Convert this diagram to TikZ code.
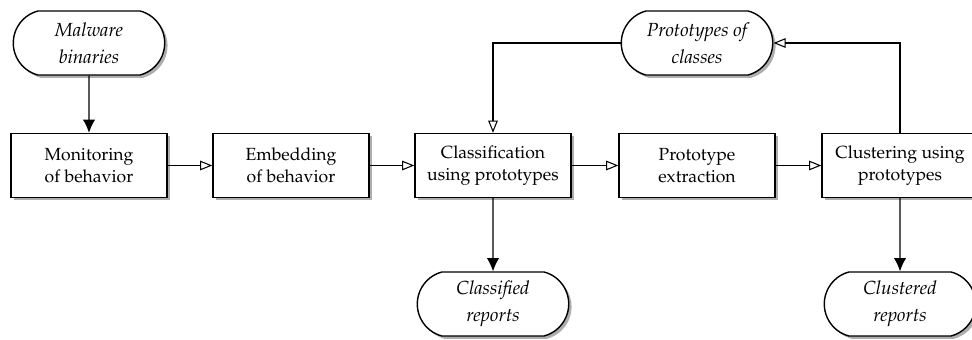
\documentclass[tikz,border=0pt]{standalone}
\usepackage[T1]{fontenc}
\usepackage{mathpazo}
\linespread{1.05}
\usepackage{tikz}
\usetikzlibrary{shapes}
\usetikzlibrary{arrows.meta}
\usetikzlibrary{shadows}
\tikzset{process/.style={rectangle, draw, line width=.8pt, fill=white, align=center,
    minimum width=3.12cm, minimum height=1.28cm, inner sep=1pt,
    drop shadow={shadow xshift=1.6pt, shadow yshift=-1.6pt, fill=black!45, opacity=.7}}}
\tikzset{terminal/.style={process, rounded rectangle, rounded rectangle arc length=150,
    minimum width=3.1cm, font=\fontsize{10.8}{14.4}\selectfont\itshape}}
\tikzset{flow/.style={line width=.6pt, -{Triangle[open, length=7pt, width=5.5pt]}}}
\tikzset{result/.style={line width=.6pt, -{Latex[length=7.5pt, width=7pt]}}}

\begin{document}
\begin{tikzpicture}[x=0.02cm,y=-0.02cm]
  \useasboundingbox (0,0) rectangle (972,340);
  \foreach \x/\y/\name/\lab in {
    89/165.5/{Monitoring\\of behavior}/monitor,
    291/165.5/{Embedding\\of behavior}/embed,
    493/165.5/{Classification\\using prototypes}/classify,
    697/165.5/{Prototype\\extraction}/extract,
    900/165.5/{Clustering using\\prototypes}/cluster%
  } {
    \node[process] (\lab) at (\x, \y) {\name};
  }
  \foreach \x/\y/\name/\lab in {
    89/43/{Malware\\binaries}/binaries,
    697/43/{Prototypes of\\classes}/protos,
    493/304/{Classified\\reports}/classified,
    900/304/{Clustered\\reports}/clustered%
  } {
    \node[terminal] (\lab) at (\x, \y) {\name};
  }
  \foreach \u/\v in {
    monitor/embed,
    embed/classify,
    classify/extract,
    extract/cluster%
  }{
    \draw[flow] (\u) -- (\v);
  }
  \foreach \u/\v in {
    binaries/monitor,
    classify/classified,
    cluster/clustered%
  }{
    \draw[result] (\u) -- (\v);
  }
  \draw[flow] (cluster.north) |- (protos.east);
  \draw[flow] (protos.west) -| (classify.north);
\end{tikzpicture}
\end{document}
